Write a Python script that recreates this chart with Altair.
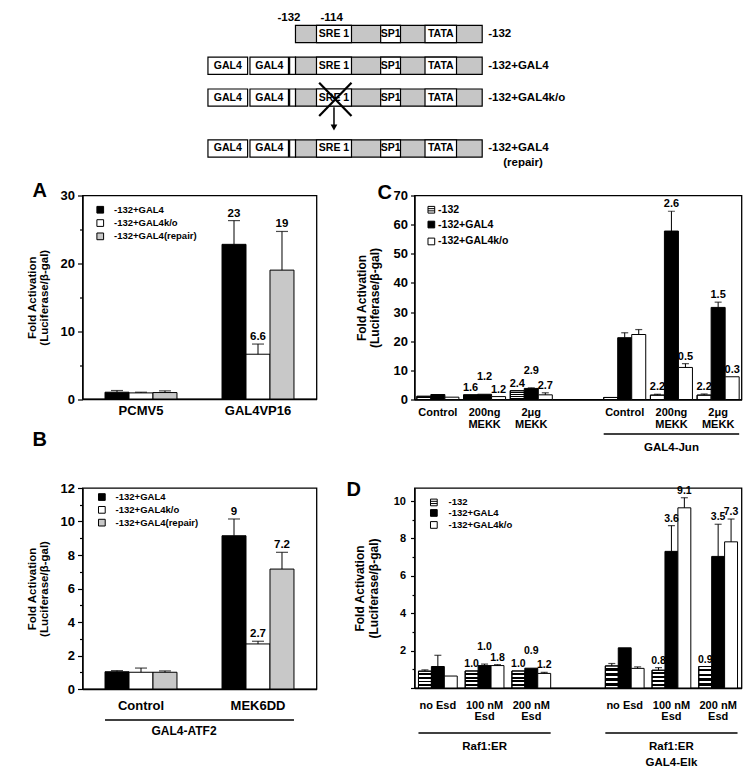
import json
import altair as alt
import pandas as pd

FONT = "Liberation Sans"
GRAY = "#c8c8c8"
SCHEME_GRAY = "#c6c6c6"
Y_TITLE = ["Fold Activation", "(Luciferase/β-gal)"]

# ---------------- schematic (positions in bp relative to start site) ----------------
construct_names = ["-132", "-132+GAL4", "-132+GAL4k/o", "-132+GAL4"]
construct_notes = ["", "", "", "(repair)"]
construct_track = [0, 1, 2, 3.6]
construct_gal4 = [False, True, True, True]
knockout_index = 2
repair_index = 3
promoter_span = [-132, 28]
element_names = ["SRE 1", "SP1", "TATA"]
element_start = [-114, -59, -21]
element_end = [-84, -42, 6]
gal4_names = ["GAL4", "GAL4", ""]
gal4_start = [-207, -171, -137]
gal4_end = [-173, -138, -132]
site_names = ["-132", "-114"]
site_pos = [-132, -114]

# ---------------- panel A ----------------
A_groups = ["PCMV5", "GAL4VP16"]
A_series = ["-132+GAL4", "-132+GAL4k/o", "-132+GAL4(repair)"]
A_means = [[1.0, 22.8], [0.9, 6.6], [0.95, 19.0]]
A_errs = [[1.25, 26.3], [1.0, 8.1], [1.2, 24.7]]
A_labels = [["", "23"], ["", "6.6"], ["", "19"]]

# ---------------- panel B ----------------
B_groups = ["Control", "MEK6DD"]
B_series = ["-132+GAL4", "-132+GAL4k/o", "-132+GAL4(repair)"]
B_means = [[1.03, 9.15], [1.0, 2.69], [1.0, 7.16]]
B_errs = [[1.1, 10.15], [1.25, 2.85], [1.08, 8.16]]
B_labels = [["", "9"], ["", "2.7"], ["", "7.2"]]
B_bracket = "GAL4-ATF2"

# ---------------- panel C ----------------
C_groups = ["Control", "200ng\nMEKK", "2μg\nMEKK", "", "Control", "200ng\nMEKK", "2μg\nMEKK"]
C_series = ["-132", "-132+GAL4", "-132+GAL4k/o"]
C_means = [
    [1.1, 1.6, 3.0, None, 0.7, 1.5, 1.5],
    [1.7, 1.8, 3.8, None, 21.2, 57.8, 31.6],
    [0.8, 1.0, 1.6, None, 22.3, 11.0, 7.8],
]
C_errs = [
    [None, None, None, None, None, 1.8, 1.9],
    [None, None, 4.0, None, 22.9, 64.6, 33.4],
    [None, None, 2.3, None, 24.0, 12.3, None],
]
C_labels = [
    ["", "1.6", "2.4", "", "", "2.2", "2.2"],
    ["", "1.2", "2.9", "", "", "2.6", "1.5"],
    ["", "1.2", "2.7", "", "", "0.5", "0.3"],
]
C_brackets = [(4, 6, 5, "GAL4-Jun")]

# ---------------- panel D ----------------
D_groups = ["no Esd", "100 nM\nEsd", "200 nM\nEsd", "", "no Esd", "100 nM\nEsd", "200 nM\nEsd"]
D_series = ["-132", "-132+GAL4", "-132+GAL4k/o"]
D_means = [
    [0.9, 0.91, 0.91, None, 1.18, 0.95, 1.15],
    [1.15, 1.2, 1.06, None, 2.15, 7.31, 7.04],
    [0.64, 1.2, 0.78, None, 1.05, 9.64, 7.82],
]
D_errs = [
    [0.97, None, None, None, 1.31, 1.09, None],
    [1.75, 1.28, None, None, None, 8.69, 8.76],
    [None, 1.25, 0.84, None, 1.13, 10.18, 9.04],
]
D_labels = [
    ["", "1.0", "1.0", "", "", "0.8", "0.9"],
    ["", "1.0", "0.9", "", "", "3.6", "3.5"],
    ["", "1.8", "1.2", "", "", "9.1", "7.3"],
]
D_brackets = [(0, 2, 1, "Raf1:ER"), (4, 6, 5, "Raf1:ER\nGAL4-Elk")]

# ---------------- styles ----------------
STRIPED = "-132"
STRIPE_N = 9
STRIPES = {
    "gradient": "linear", "x1": 0, "y1": 0, "x2": 0, "y2": 1,
    "stops": [st for i in range(STRIPE_N) for st in (
        {"offset": i / STRIPE_N, "color": "black" if i % 2 else "white"},
        {"offset": (i + 1) / STRIPE_N, "color": "black" if i % 2 else "white"})],
}
STRIPED_SQUARE = "M-1,-1H1V1H-1Z M-1,-0.33H1 M-1,0.33H1"


def legend(st, y, symbol):
    return alt.Legend(title=None, orient="none", legendX=st["lx"], legendY=y,
                      direction="vertical", symbolType=symbol, symbolSize=st["lsym"],
                      symbolStrokeColor="black", symbolStrokeWidth=1,
                      labelFontSize=st["lfont"], labelFontWeight="bold", labelColor="black",
                      labelOffset=st["loff"], rowPadding=st["lrow"], padding=0)


def bar_panel(letter, groups, series, colors, means, errs, labels, st):
    keys = [f"g{i}" for i in range(len(groups))]
    ymax = st["ymax"]
    rows = []
    for si, s in enumerate(series):
        for gi, k in enumerate(keys):
            m = means[si][gi]
            if m is None:
                continue
            e = errs[si][gi]
            rows.append({"key": k, "series": s, "mean": m, "err": e,
                         "top": m if e is None else e, "label": labels[si][gi]})
    df = pd.DataFrame(rows)
    gmax = df.groupby("key")["top"].transform("max")
    df["raised"] = (df["series"] == series[1]) & (gmax < 0.2 * ymax)

    lines = [g.split("\n") for g in groups]
    label_expr = f"{json.dumps(lines, ensure_ascii=False)}[indexof({json.dumps(keys)}, datum.value)]"
    pin = st["pad"]
    xscale = alt.Scale(domain=keys, paddingInner=pin, paddingOuter=pin / 2)
    xkw = dict(labelExpr=label_expr, labelAngle=0, ticks=False, tickSize=0,
               labelPadding=st["xpad"], labelFontSize=st["xfont"], labelLineHeight=st["xline"],
               labelFontWeight="bold", labelColor="black", domainWidth=1.3, domainColor="black")
    if st.get("xtitle"):
        xkw.update(title=st["xtitle"], titleX=st["xtitle_x"], titleY=st["xtitle_y"],
                   titleBaseline="middle", titleFontSize=12, titleFontWeight="bold",
                   titleColor="black")
    else:
        xkw["title"] = None
    xaxis = alt.Axis(**xkw)

    yvals = list(range(0, int(ymax) + 1, st["ystep"]))
    cond = f"datum.value % {st['ymajor']} === 0"
    lab_cond = cond if st.get("zero_label", True) else f"datum.value > 0 && {cond}"
    yaxis = alt.Axis(values=yvals, labelExpr=f"({lab_cond}) ? datum.label : ''",
                     tickSize={"condition": {"test": cond, "value": st["tmaj"]}, "value": st["tmin"]},
                     tickWidth=1.2, tickColor="black", labelPadding=st["ylabpad"],
                     labelFontSize=st["yfont"], labelFontWeight="bold", labelColor="black",
                     labelFlush=False, labelOverlap=False, title=Y_TITLE,
                     titleFontSize=st["tfont"], titleLineHeight=st["tline"],
                     titlePadding=st["titlepad"], titleFontWeight="bold", titleColor="black",
                     domainWidth=1.3, domainColor="black")
    yscale = alt.Scale(domain=[0, ymax], nice=False, zero=True)

    def X(f, **kw):
        return alt.X(f, type="nominal", scale=xscale, axis=xaxis, **kw)

    def Y(f):
        return alt.Y(f, type="quantitative", scale=yscale, axis=yaxis, stack=False)

    XO = alt.XOffset("series:N", scale=alt.Scale(domain=series))
    base = alt.Chart(df)
    layers = []
    plain = [s for s in series if s != STRIPED]
    plain_colors = [c for s, c in zip(series, colors) if s != STRIPED]
    has_striped = STRIPED in series
    ly_plain = st["ly2"] if has_striped else st["ly"]
    layers.append(
        base.transform_filter(alt.FieldOneOfPredicate(field="series", oneOf=plain))
        .mark_bar(stroke="black", strokeWidth=1)
        .encode(x=X("key"), xOffset=XO, y=Y("mean"),
                fill=alt.Fill("series:N", scale=alt.Scale(domain=plain, range=plain_colors),
                              legend=legend(st, ly_plain, "square")))
    )
    if has_striped:
        striped = base.transform_filter(alt.datum.series == STRIPED)
        layers.append(striped.mark_bar(fill=STRIPES, stroke="black", strokeWidth=1)
                      .encode(x=X("key"), xOffset=XO, y=Y("mean")))
        layers.append(striped.mark_bar(filled=False, strokeWidth=1)
                      .encode(x=X("key"), xOffset=XO, y=Y("mean"),
                              color=alt.Color("series:N",
                                              scale=alt.Scale(domain=[STRIPED], range=["black"]),
                                              legend=legend(st, st["ly"], STRIPED_SQUARE))))
    err = base.transform_filter("isValid(datum.err)")
    layers.append(err.mark_rule(color="black", strokeWidth=1)
                  .encode(x=X("key"), xOffset=XO, y=Y("mean"), y2=alt.Y2("err")))
    layers.append(err.mark_tick(color="black", thickness=1.2, size=st["cap"])
                  .encode(x=X("key"), xOffset=XO, y=Y("err")))
    layers.append(base.transform_filter("datum.label != '' && !datum.raised")
                  .mark_text(baseline="bottom", dy=-2, fontSize=st["vfont"], fontWeight="bold", color="black")
                  .encode(x=X("key"), xOffset=XO, y=Y("top"), text="label:N"))
    layers.append(base.transform_filter("datum.label != '' && datum.raised")
                  .mark_text(baseline="bottom", dy=-12, fontSize=st["vfont"], fontWeight="bold", color="black")
                  .encode(x=X("key"), xOffset=XO, y=Y("top"), text="label:N"))
    brackets = st.get("brackets", [])
    if brackets:
        gdf = pd.DataFrame({"start": [keys[b[0]] for b in brackets],
                            "end": [keys[b[1]] for b in brackets],
                            "mid": [keys[b[2]] for b in brackets],
                            "text": [b[3] for b in brackets]})
        gb = alt.Chart(gdf)
        layers.append(gb.mark_rule(color="black", strokeWidth=1.3)
                      .encode(x=X("start", bandPosition=0), x2=alt.X2("end", bandPosition=1),
                              y=alt.value(st["bline"])))
        if st.get("btext", True):
            layers.append(gb.mark_text(baseline="top", lineBreak="\n", fontSize=11.5, lineHeight=16,
                                       fontWeight="bold", color="black")
                          .encode(x=X("mid"), y=alt.value(st["btexty"]), text="text:N"))
    return alt.layer(*layers).properties(
        width=st["w"], height=st["h"],
        title=alt.TitleParams(letter, anchor="start", frame="group", orient="top", fontSize=20,
                              fontWeight="bold", color="black", dx=st["tdx"], offset=st["toff"]),
        view=alt.ViewBackground(stroke="black", strokeWidth=1.3),
    )


common_AB = dict(w=234, pad=0.385, tmaj=5, tmin=3, ylabpad=3, yfont=13,
                 tfont=11.5, tline=11.5, titlepad=11, cap=12, vfont=11.5,
                 lsym=45, lfont=9.5, loff=9, xfont=13, xline=14)
stA = dict(common_AB, h=203.5, ymax=30, ystep=5, ymajor=10, xpad=5, lx=13, ly=9.5, lrow=1.3,
           tdx=-50, toff=-11)
stB = dict(common_AB, h=201, ymax=12, ystep=1, ymajor=2, xpad=10, lx=14.6, ly=4.3, lrow=0.8,
           tdx=-50, toff=32, brackets=[(0, 1, 0, B_bracket)], btext=False, bline=232,
           xtitle=B_bracket, xtitle_x=101, xtitle_y=41)
stC = dict(w=327, h=204, pad=0.1, ymax=70, ystep=10, ymajor=10, tmaj=4, tmin=4, ylabpad=3,
           yfont=13, tfont=12, tline=13, titlepad=12, cap=7, vfont=11, lsym=45, lfont=10.5,
           loff=1.5, lx=11.6, ly=9, ly2=23.8, lrow=4.9, xfont=11, xline=11.7, xpad=7,
           brackets=C_brackets, bline=238.5, btexty=246.5, tdx=-37, toff=-13)
stD = dict(w=327, h=200, pad=0.17, ymax=10.7, ystep=1, ymajor=2, zero_label=False, tmaj=4,
           tmin=2.5, ylabpad=5, yfont=11, tfont=12, tline=13.5, titlepad=13, cap=7, vfont=10.5,
           lsym=45, lfont=9.5, loff=10, lx=14.6, ly=9.7, ly2=20.2, lrow=0, xfont=11, xline=11.7,
           xpad=11, brackets=D_brackets, bline=245, btexty=253, tdx=-68, toff=-14)

panelA = bar_panel("A", A_groups, A_series, ["black", "white", GRAY],
                   A_means, A_errs, A_labels, stA)
panelB = bar_panel("B", B_groups, B_series, ["black", "white", GRAY],
                   B_means, B_errs, B_labels, stB)
panelC = bar_panel("C", C_groups, C_series, ["white", "black", "white"],
                   C_means, C_errs, C_labels, stC)
panelD = bar_panel("D", D_groups, D_series, ["white", "black", "white"],
                   D_means, D_errs, D_labels, stD)

# ---------------- schematic chart ----------------
HALF = 0.27
prom_rows, box_rows, label_rows = [], [], []
for name, note, t, g in zip(construct_names, construct_notes, construct_track, construct_gal4):
    prom_rows.append({"x0": promoter_span[0], "x1": promoter_span[1], "y0": t - HALF, "y1": t + HALF})
    parts = list(zip(element_names, element_start, element_end))
    if g:
        parts += list(zip(gal4_names, gal4_start, gal4_end))
    for n, s, e in parts:
        box_rows.append({"x0": s, "x1": e, "y0": t - HALF, "y1": t + HALF,
                         "xm": (s + e) / 2, "t": t, "text": n})
    label_rows.append({"x": promoter_span[1], "t": t, "text": name, "note": note, "tn": t + 0.46})
prom_df = pd.DataFrame(prom_rows)
box_df = pd.DataFrame(box_rows)
lab_df = pd.DataFrame(label_rows)
site_df = pd.DataFrame({"x": site_pos, "text": site_names, "t": [-0.5] * len(site_pos)})

t_ko = construct_track[knockout_index]
t_rep = construct_track[repair_index]
sre_s, sre_e = element_start[0], element_end[0]
cross_df = pd.DataFrame({"x0": [sre_s + 2.3, sre_e], "x1": [sre_e, sre_s + 2.3],
                         "y0": [t_ko - 0.47, t_ko - 0.47], "y1": [t_ko + 0.58, t_ko + 0.58]})
arrow_df = pd.DataFrame({"x": [(sre_s + sre_e) / 2], "y0": [t_ko + 0.3], "y1": [t_rep - 0.66]})

SX = alt.Scale(domain=[-314.5, 250.2], nice=False, zero=False)
SY = alt.Scale(domain=[-0.629, 4.403], nice=False, zero=False, reverse=True)


def sx(f):
    return alt.X(f, type="quantitative", scale=SX, axis=None)


def sy(f):
    return alt.Y(f, type="quantitative", scale=SY, axis=None)


sch_layers = [
    alt.Chart(prom_df).mark_rect(fill=SCHEME_GRAY, stroke="black", strokeWidth=1.2)
    .encode(x=sx("x0"), x2="x1", y=sy("y0"), y2="y1"),
    alt.Chart(box_df).mark_rect(fill="white", stroke="black", strokeWidth=1.2)
    .encode(x=sx("x0"), x2="x1", y=sy("y0"), y2="y1"),
    alt.Chart(box_df).mark_text(fontSize=10.5, fontWeight="bold", color="black")
    .encode(x=sx("xm"), y=sy("t"), text="text:N"),
    alt.Chart(lab_df).mark_text(fontSize=11.5, fontWeight="bold", color="black", align="left", dx=6)
    .encode(x=sx("x"), y=sy("t"), text="text:N"),
    alt.Chart(lab_df).transform_filter("datum.note != ''")
    .mark_text(fontSize=11.5, fontWeight="bold", color="black", align="left", dx=21)
    .encode(x=sx("x"), y=sy("tn"), text="note:N"),
    alt.Chart(site_df).transform_filter(alt.datum.text == site_names[0])
    .mark_text(fontSize=11.5, fontWeight="bold", color="black", align="right", dx=5)
    .encode(x=sx("x"), y=sy("t"), text="text:N"),
    alt.Chart(site_df).transform_filter(alt.datum.text == site_names[1])
    .mark_text(fontSize=11.5, fontWeight="bold", color="black", align="left", dx=4)
    .encode(x=sx("x"), y=sy("t"), text="text:N"),
    alt.Chart(cross_df).mark_rule(color="black", strokeWidth=2.2)
    .encode(x=sx("x0"), x2="x1", y=sy("y0"), y2="y1"),
    alt.Chart(arrow_df).mark_rule(color="black", strokeWidth=1.5)
    .encode(x=sx("x"), y=sy("y0"), y2="y1"),
    alt.Chart(arrow_df).mark_point(shape="triangle-down", filled=True, color="black", size=45, opacity=1)
    .encode(x=sx("x"), y=sy("y1")),
]
schematic = alt.layer(*sch_layers).properties(width=659, height=160)

grid = alt.concat(panelA, panelC, panelB, panelD, columns=2,
                  spacing={"row": 88.5, "column": 98}, bounds="flush") \
    .resolve_scale(x="independent", y="independent", color="independent",
                   fill="independent", xOffset="independent") \
    .resolve_legend(color="independent", fill="independent")

chart = alt.vconcat(schematic, grid, spacing=4.5) \
    .resolve_scale(color="independent", fill="independent") \
    .resolve_legend(color="independent", fill="independent") \
    .configure(font=FONT, padding={"left": 17.5, "top": 3, "right": 0, "bottom": 2}) \
    .configure_view(stroke="transparent") \
    .configure_axis(labelFont=FONT, titleFont=FONT, grid=False) \
    .configure_legend(labelFont=FONT) \
    .configure_title(font=FONT)

chart.save("out.html", embed_options={"renderer": "svg", "actions": False})
